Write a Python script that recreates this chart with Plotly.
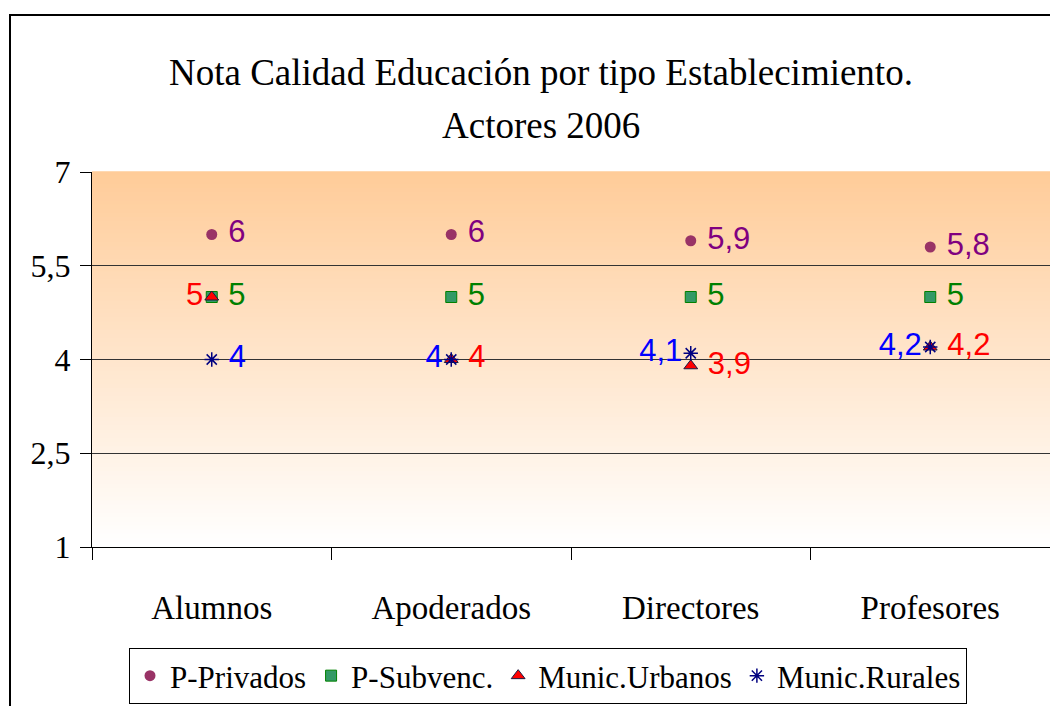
import plotly.graph_objects as go

categories = ["Alumnos", "Apoderados", "Directores", "Profesores"]
p_privados = [6.0, 6.0, 5.9, 5.8]
p_subvenc = [5.0, 5.0, 5.0, 5.0]
munic_urbanos = [5.0, 4.0, 3.9, 4.2]
munic_rurales = [4.0, 4.0, 4.1, 4.2]
y_ticks = [1, 2.5, 4, 5.5, 7]
y_ticktext = ["1", "2,5", "4", "5,5", "7"]


def fmt(v):
    return ("%g" % v).replace(".", ",")


def labels(vals, positions):
    out = []
    for v, p in zip(vals, positions):
        t = fmt(v)
        out.append(" " + t if "right" in p else t)
    return out


OFF = 8  # page body margin
W, H = 1058 - OFF, 706 - OFF
# plot area in page pixels: x 92..1050, y 172..547
L, T = 92 - OFF, 172 - OFF
R = W - L - 958
B = H - T - 375
pw, ph = W - L - R, H - T - B


def px_x(px):  # page px -> paper
    return (px - OFF - L) / pw


def px_y(py):
    return (H - B - (py - OFF)) / ph


SERIF = "Liberation Serif"
SANS = "Liberation Sans"

series = [
    ("P-Privados", p_privados, dict(symbol="circle", size=11, color="#993366",
                                    line=dict(width=0)), "#800080",
     ["middle right"] * 4),
    ("P-Subvenc.", p_subvenc, dict(symbol="square", size=11, color="#339966",
                                   line=dict(width=1, color="#008000")), "#008000",
     ["middle right"] * 4),
    ("Munic.Urbanos", munic_urbanos, dict(symbol="triangle-up", size=12, color="#FF0000",
                                          line=dict(width=1, color="#1a1a40")), "#FF0000",
     ["middle left", "middle right", "middle right", "middle right"]),
    ("Munic.Rurales", munic_rurales, dict(symbol="asterisk-open", size=12, color="#000080",
                                          line=dict(width=1.5, color="#000080")), "#0000FF",
     ["middle right", "middle left", "middle left", "middle left"]),
]

fig = go.Figure()
for name, vals, marker, tcolor, pos in series:
    fig.add_trace(go.Scatter(
        x=categories, y=vals, name=name, mode="markers+text",
        marker=marker,
        text=labels(vals, pos), textposition=pos,
        textfont=dict(family=SANS, size=31, color=tcolor),
        cliponaxis=False,
    ))

# gradient background (style only)
shapes = []
n = 90
top = (255, 204, 153)
bot = (255, 255, 255)
for i in range(n):
    f = i / (n - 1)
    c = tuple(round(top[k] + (bot[k] - top[k]) * f) for k in range(3))
    shapes.append(dict(type="rect", xref="x domain", yref="y domain",
                       x0=0, x1=1, y0=1 - (i + 1) / n, y1=1 - i / n + 0.002,
                       fillcolor="rgb(%d,%d,%d)" % c, line=dict(width=0), layer="below"))
# outer chart border
shapes.append(dict(type="rect", xref="paper", yref="paper",
                   x0=px_x(10), x1=px_x(1070), y0=px_y(720), y1=px_y(15),
                   line=dict(color="black", width=2), fillcolor="rgba(0,0,0,0)"))

fig.update_layout(
    width=W, height=H,
    margin=dict(l=L, r=R, t=T, b=B, pad=0, autoexpand=False),
    paper_bgcolor="white", plot_bgcolor="white",
    shapes=shapes,
    showlegend=True,
    legend=dict(orientation="h", x=px_x(548), xanchor="center",
                y=px_y(704), yanchor="bottom",
                font=dict(family=SERIF, size=31, color="black"),
                bordercolor="black", borderwidth=1, bgcolor="white",
                itemwidth=30),
    annotations=[
        dict(text="Nota Calidad Educación por tipo Establecimiento.", x=px_x(541), y=px_y(72),
             xref="paper", yref="paper", showarrow=False, xanchor="center", yanchor="middle",
             font=dict(family=SERIF, size=37, color="black")),
        dict(text="Actores 2006", x=px_x(541), y=px_y(126),
             xref="paper", yref="paper", showarrow=False, xanchor="center", yanchor="middle",
             font=dict(family=SERIF, size=37, color="black")),
    ],
    xaxis=dict(type="category", categoryorder="array", categoryarray=categories,
               range=[-0.5, 3.5], showgrid=False, showline=True, linecolor="black", linewidth=1,
               ticks="outside", tickson="boundaries", ticklen=12, tickcolor="black",
               tickfont=dict(family=SERIF, size=33, color="black"), ticklabelstandoff=31,
               zeroline=False, automargin=False),
    yaxis=dict(range=[1, 7], tickvals=y_ticks, ticktext=y_ticktext,
               showgrid=True, gridcolor="#333333", gridwidth=1,
               showline=True, linecolor="black", linewidth=1,
               ticks="outside", ticklen=11, tickcolor="black",
               tickfont=dict(family=SERIF, size=32, color="black"), ticklabelstandoff=3,
               zeroline=False, automargin=False),
)

fig.write_html("out.html")
